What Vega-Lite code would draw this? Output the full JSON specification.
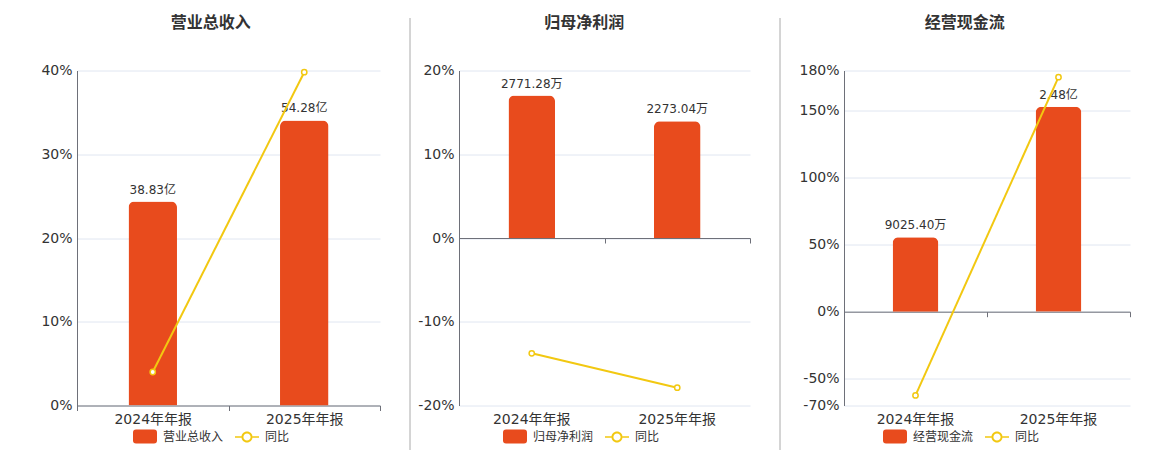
{
  "$schema": "https://vega.github.io/schema/vega-lite/v6.json",
  "background": "#ffffff",
  "padding": {"left": 40, "top": 14, "right": 0, "bottom": 0},
  "spacing": 30,
  "bounds": "flush",
  "center": true,
  "resolve": {"scale": {"color": "independent", "x": "independent", "y": "independent"}},
  "hconcat": [
    {
      "width": 303,
      "height": 335,
      "title": "营业总收入",
      "data": {"values": [
        {"period": "2024年年报", "value": 38.83, "label": "38.83亿", "yoy": 4.0},
        {"period": "2025年年报", "value": 54.28, "label": "54.28亿", "yoy": 39.8}
      ]},
      "resolve": {"scale": {"y": "independent"}, "axis": {"x": "independent"}},
      "layer": [
        {
          "encoding": {
            "x": {"field": "period", "type": "nominal", "sort": null, "scale": {"paddingInner": 0, "paddingOuter": 0},
                  "axis": {"title": null, "labelAngle": 0, "domain": true, "ticks": true, "tickBand": "extent", "tickSize": 5, "labelPadding": 2}},
            "y": {"field": "value", "type": "quantitative", "scale": {"domain": [0, 63.8], "nice": false}, "axis": null}
          },
          "layer": [
            {
              "mark": {"type": "bar", "width": {"band": 0.32}, "cornerRadiusTopLeft": 6, "cornerRadiusTopRight": 6},
              "encoding": {
                "color": {"datum": "营业总收入", "type": "nominal",
                          "scale": {"domain": ["营业总收入", "同比"], "range": ["#E84B1D", "#F2C811"]},
                          "legend": {"title": null, "orient": "none", "direction": "horizontal", "legendX": 56, "legendY": 354,
                            "encode": {"symbols": {"update": {
                              "shape": {"signal": "datum.value === '同比' ? 'M-1,-0.07H-0.46V0.07H-1ZM0.46,-0.07H1V0.07H0.46ZM0.46,0A0.46,0.46,0,1,1,-0.46,0A0.46,0.46,0,1,1,0.46,0ZM0.3,0A0.3,0.3,0,1,0,-0.3,0A0.3,0.3,0,1,0,0.3,0Z' : 'M-0.75,-0.58H0.75Q1,-0.58,1,-0.33V0.33Q1,0.58,0.75,0.58H-0.75Q-1,0.58,-1,0.33V-0.33Q-1,-0.58,-0.75,-0.58Z'"},
                              "strokeWidth": {"value": 0},
                              "opacity": {"value": 1}
                            }}}}}
              }
            },
            {
              "mark": {"type": "text", "baseline": "bottom", "dy": -5, "fontSize": 12, "color": "#333333"},
              "encoding": {"text": {"field": "label"}}
            }
          ]
        },
        {
          "encoding": {
            "x": {"field": "period", "type": "nominal", "sort": null, "scale": {"paddingInner": 0, "paddingOuter": 0}, "axis": null},
            "y": {"field": "yoy", "type": "quantitative", "scale": {"domain": [0, 40], "nice": false, "zero": false},
                  "axis": {"orient": "left", "title": null, "values": [0, 10, 20, 30, 40], "labelExpr": "datum.value + '%'", "grid": true, "domain": true, "ticks": false}}
          },
          "layer": [
            {"mark": {"type": "line", "strokeWidth": 2}, "encoding": {"color": {"datum": "同比", "type": "nominal"}}},
            {"mark": {"type": "point", "filled": true, "fill": "#ffffff", "stroke": "#F2C811", "strokeWidth": 1.5, "size": 28, "opacity": 1}}
          ]
        }
      ]
    },
    {
      "width": 19,
      "height": 440,
      "data": {"values": [{"sep": 0}]},
      "mark": {"type": "rule", "color": "#AAAAAA", "strokeWidth": 1},
      "encoding": {"x": {"field": "sep", "type": "quantitative", "scale": {"domain": [0, 1]}, "axis": null}}
    },
    {
      "width": 291,
      "height": 335,
      "title": "归母净利润",
      "data": {"values": [
        {"period": "2024年年报", "value": 2771.28, "label": "2771.28万", "yoy": -13.77},
        {"period": "2025年年报", "value": 2273.04, "label": "2273.04万", "yoy": -17.87}
      ]},
      "resolve": {"scale": {"y": "independent"}, "axis": {"x": "independent"}},
      "layer": [
        {
          "encoding": {
            "x": {"field": "period", "type": "nominal", "sort": null, "scale": {"paddingInner": 0, "paddingOuter": 0},
                  "axis": {"title": null, "labelAngle": 0, "domain": false, "ticks": false, "labelPadding": 7}},
            "y": {"field": "value", "type": "quantitative", "scale": {"domain": [-3259, 3259], "nice": false}, "axis": null}
          },
          "layer": [
            {
              "mark": {"type": "bar", "width": {"band": 0.32}, "cornerRadiusTopLeft": 6, "cornerRadiusTopRight": 6},
              "encoding": {
                "color": {"datum": "归母净利润", "type": "nominal",
                          "scale": {"domain": ["归母净利润", "同比"], "range": ["#E84B1D", "#F2C811"]},
                          "legend": {"title": null, "orient": "none", "direction": "horizontal", "legendX": 44, "legendY": 354,
                            "encode": {"symbols": {"update": {
                              "shape": {"signal": "datum.value === '同比' ? 'M-1,-0.07H-0.46V0.07H-1ZM0.46,-0.07H1V0.07H0.46ZM0.46,0A0.46,0.46,0,1,1,-0.46,0A0.46,0.46,0,1,1,0.46,0ZM0.3,0A0.3,0.3,0,1,0,-0.3,0A0.3,0.3,0,1,0,0.3,0Z' : 'M-0.75,-0.58H0.75Q1,-0.58,1,-0.33V0.33Q1,0.58,0.75,0.58H-0.75Q-1,0.58,-1,0.33V-0.33Q-1,-0.58,-0.75,-0.58Z'"},
                              "strokeWidth": {"value": 0},
                              "opacity": {"value": 1}
                            }}}}}
              }
            },
            {
              "mark": {"type": "text", "baseline": "bottom", "dy": -5, "fontSize": 12, "color": "#333333"},
              "encoding": {"text": {"field": "label"}}
            }
          ]
        },
        {
          "encoding": {
            "x": {"field": "period", "type": "nominal", "sort": null, "scale": {"paddingInner": 0, "paddingOuter": 0},
                  "axis": {"orient": "bottom", "offset": -167.5, "title": null, "labels": false, "domain": true, "ticks": true, "tickBand": "extent", "tickSize": 5, "grid": false}},
            "y": {"field": "yoy", "type": "quantitative", "scale": {"domain": [-20, 20], "nice": false, "zero": false},
                  "axis": {"orient": "left", "title": null, "values": [-20, -10, 0, 10, 20], "labelExpr": "datum.value + '%'", "grid": true, "domain": true, "ticks": false}}
          },
          "layer": [
            {"mark": {"type": "line", "strokeWidth": 2}, "encoding": {"color": {"datum": "同比", "type": "nominal"}}},
            {"mark": {"type": "point", "filled": true, "fill": "#ffffff", "stroke": "#F2C811", "strokeWidth": 1.5, "size": 28, "opacity": 1}}
          ]
        }
      ]
    },
    {
      "width": 34,
      "height": 440,
      "data": {"values": [{"sep": 0}]},
      "mark": {"type": "rule", "color": "#AAAAAA", "strokeWidth": 1},
      "encoding": {"x": {"field": "sep", "type": "quantitative", "scale": {"domain": [0, 1]}, "axis": null}}
    },
    {
      "width": 286,
      "height": 335,
      "title": "经营现金流",
      "data": {"values": [
        {"period": "2024年年报", "value": 0.902540, "label": "9025.40万", "yoy": -62.5},
        {"period": "2025年年报", "value": 2.48, "label": "2.48亿", "yoy": 175.0}
      ]},
      "resolve": {"scale": {"y": "independent"}, "axis": {"x": "independent"}},
      "layer": [
        {
          "encoding": {
            "x": {"field": "period", "type": "nominal", "sort": null, "scale": {"paddingInner": 0, "paddingOuter": 0},
                  "axis": {"title": null, "labelAngle": 0, "domain": false, "ticks": false, "labelPadding": 7}},
            "y": {"field": "value", "type": "quantitative", "scale": {"domain": [-1.136, 2.92], "nice": false}, "axis": null}
          },
          "layer": [
            {
              "mark": {"type": "bar", "width": {"band": 0.32}, "cornerRadiusTopLeft": 6, "cornerRadiusTopRight": 6},
              "encoding": {
                "color": {"datum": "经营现金流", "type": "nominal",
                          "scale": {"domain": ["经营现金流", "同比"], "range": ["#E84B1D", "#F2C811"]},
                          "legend": {"title": null, "orient": "none", "direction": "horizontal", "legendX": 39, "legendY": 354,
                            "encode": {"symbols": {"update": {
                              "shape": {"signal": "datum.value === '同比' ? 'M-1,-0.07H-0.46V0.07H-1ZM0.46,-0.07H1V0.07H0.46ZM0.46,0A0.46,0.46,0,1,1,-0.46,0A0.46,0.46,0,1,1,0.46,0ZM0.3,0A0.3,0.3,0,1,0,-0.3,0A0.3,0.3,0,1,0,0.3,0Z' : 'M-0.75,-0.58H0.75Q1,-0.58,1,-0.33V0.33Q1,0.58,0.75,0.58H-0.75Q-1,0.58,-1,0.33V-0.33Q-1,-0.58,-0.75,-0.58Z'"},
                              "strokeWidth": {"value": 0},
                              "opacity": {"value": 1}
                            }}}}}
              }
            },
            {
              "mark": {"type": "text", "baseline": "bottom", "dy": -5, "fontSize": 12, "color": "#333333"},
              "encoding": {"text": {"field": "label"}}
            }
          ]
        },
        {
          "encoding": {
            "x": {"field": "period", "type": "nominal", "sort": null, "scale": {"paddingInner": 0, "paddingOuter": 0},
                  "axis": {"orient": "bottom", "offset": -93.8, "title": null, "labels": false, "domain": true, "ticks": true, "tickBand": "extent", "tickSize": 5, "grid": false}},
            "y": {"field": "yoy", "type": "quantitative", "scale": {"domain": [-70, 180], "nice": false, "zero": false},
                  "axis": {"orient": "left", "title": null, "values": [-70, -50, 0, 50, 100, 150, 180], "labelExpr": "datum.value + '%'", "grid": true, "domain": true, "ticks": false}}
          },
          "layer": [
            {"mark": {"type": "line", "strokeWidth": 2}, "encoding": {"color": {"datum": "同比", "type": "nominal"}}},
            {"mark": {"type": "point", "filled": true, "fill": "#ffffff", "stroke": "#F2C811", "strokeWidth": 1.5, "size": 28, "opacity": 1}}
          ]
        }
      ]
    }
  ],
  "config": {
    "font": "DejaVu Sans, Noto Sans CJK SC",
    "view": {"stroke": null},
    "axis": {
      "labelFont": "DejaVu Sans, Noto Sans CJK SC",
      "labelFontSize": 14,
      "labelColor": "#333333",
      "labelPadding": 5,
      "domainColor": "#6E7079",
      "domainWidth": 1,
      "tickColor": "#6E7079",
      "gridColor": "#E0E6F1",
      "gridWidth": 1
    },
    "title": {
      "font": "DejaVu Sans, Noto Sans CJK SC",
      "fontSize": 16,
      "fontWeight": "bold",
      "color": "#333333",
      "anchor": "middle",
      "frame": "bounds",
      "offset": 33
    },
    "legend": {
      "labelFont": "DejaVu Sans, Noto Sans CJK SC",
      "labelFontSize": 12,
      "labelColor": "#333333",
      "symbolSize": 576,
      "symbolStrokeWidth": 0,
      "labelOffset": 6,
      "columnPadding": 11,
      "padding": 0
    }
  }
}
